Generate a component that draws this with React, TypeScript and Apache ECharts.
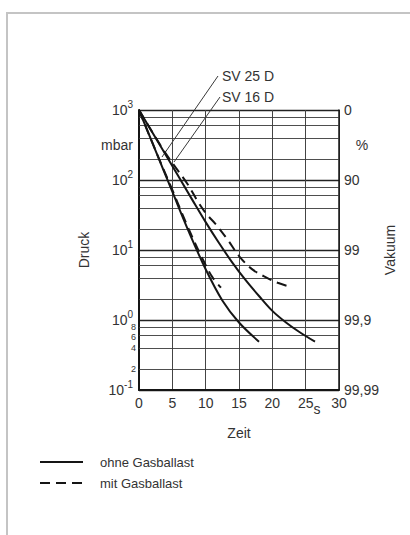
import React, { useEffect, useRef } from "react";
import * as echarts from "echarts";

// Pump-down curves (time in s, pressure in mbar)
const timeSv25Ohne = [0, 2.5, 5, 7.5, 10, 12.5, 15, 18];
const pressSv25Ohne = [1000, 260, 68, 18, 5.3, 1.9, 0.92, 0.49];
const timeSv25Mit = [0, 2.5, 5, 7.5, 9.5, 11, 12.3];
const pressSv25Mit = [1000, 262, 72, 19.5, 7.6, 4.1, 2.9];
const timeSv16Ohne = [0, 4, 8, 10, 12, 14, 16, 18, 20, 22, 24, 26.4];
const pressSv16Ohne = [1000, 229, 52, 25, 12.6, 6.6, 3.7, 2.2, 1.35, 0.93, 0.68, 0.49];
const timeSv16Mit = [0, 4, 7.2, 8.9, 10.2, 11.4, 13.3, 15.1, 17.1, 19.2, 20.8, 22.6];
const pressSv16Mit = [1000, 240, 90, 48, 32, 24, 14, 8, 5.2, 4.0, 3.4, 3.0];

// Axis / grid values
const minorGridValues = [0.2, 0.4, 0.6, 0.8, 2, 4, 6, 8, 20, 40, 60, 80, 200, 400, 600, 800];
const minorLabelValues = [0.2, 0.4, 0.6, 0.8];
const minorLabelTexts = ["2", "4", "6", "8"];
const vacuumTickValues = [1000, 100, 10, 1, 0.1];
const vacuumTickLabels = ["0", "90", "99", "99,9", "99,99"];

const legendNames = ["ohne Gasballast", "mit Gasballast"];

const FONT = '"Liberation Sans", Arial, Helvetica, sans-serif';
const TXT = "#333";
const INK = "#151515";
const DASH = [10, 6];

function zip(t: number[], p: number[]) {
  return t.map((v, i) => [v, p[i]]);
}

export default function App() {
  const ref = useRef<HTMLDivElement>(null);
  useEffect(() => {
    document.body.style.margin = "0";
    const chart = echarts.init(ref.current!, null, { renderer: "svg" });

    const markLineData = minorGridValues.map((v) => {
      const idx = minorLabelValues.indexOf(v);
      return {
        yAxis: v,
        label:
          idx >= 0
            ? {
                show: true,
                position: "start",
                formatter: minorLabelTexts[idx],
                fontSize: 9,
                lineHeight: 8,
                color: TXT,
                distance: 3,
                fontFamily: FONT,
                offset: [0, idx === 3 ? 0.5 : idx === 2 ? 1.5 : 0],
              }
            : { show: false },
      };
    });

    const solidStyle = { color: INK, width: 2, type: "solid" };
    const dashStyle = { color: INK, width: 2, type: DASH };

    const option: any = {
      animation: false,
      textStyle: { fontFamily: FONT },
      grid: { left: 139, right: 71, top: 110, bottom: 145 },
      xAxis: {
        type: "value",
        min: 0,
        max: 30,
        interval: 5,
        axisLine: { show: true, lineStyle: { color: INK, width: 2 } },
        axisTick: { show: false },
        axisLabel: { fontSize: 14, color: TXT, margin: 6 },
        splitLine: { show: true, lineStyle: { color: "#444", width: 1 } },
        name: "Zeit",
        nameLocation: "middle",
        nameGap: 36,
        nameTextStyle: { fontSize: 14, color: TXT },
      },
      yAxis: [
        {
          type: "log",
          logBase: 10,
          min: 0.1,
          max: 1000,
          position: "left",
          axisLine: { show: true, onZero: false, lineStyle: { color: INK, width: 2 } },
          axisTick: { show: false },
          splitLine: { show: true, lineStyle: { color: "#222", width: 1.3 } },
          axisLabel: {
            margin: 6,
            color: TXT,
            formatter: (v: number) => `{b|10}{s|${Math.round(Math.log10(v))}}`,
            rich: {
              b: { fontSize: 14, color: TXT },
              s: { fontSize: 10, color: TXT, padding: [0, 0, 11, 0] },
            },
          },
          name: "Druck",
          nameLocation: "middle",
          nameGap: 48,
          nameRotate: 90,
          nameTextStyle: { fontSize: 14, color: TXT },
        },
        {
          type: "log",
          logBase: 10,
          min: 0.1,
          max: 1000,
          position: "right",
          axisLine: { show: true, onZero: false, lineStyle: { color: INK, width: 1.5 } },
          axisTick: { show: false },
          splitLine: { show: false },
          axisLabel: {
            margin: 5,
            fontSize: 14,
            color: TXT,
            formatter: (v: number) => {
              const i = vacuumTickValues.findIndex((t) => Math.abs(Math.log10(t) - Math.log10(v)) < 1e-6);
              return i >= 0 ? vacuumTickLabels[i] : "";
            },
          },
          name: "Vakuum",
          nameLocation: "middle",
          nameGap: 44,
          nameRotate: 90,
          nameTextStyle: { fontSize: 14, color: TXT },
        },
      ],
      series: [
        {
          name: legendNames[0],
          type: "line",
          data: zip(timeSv25Ohne, pressSv25Ohne),
          symbol: "none",
          smooth: 0.35,
          lineStyle: solidStyle,
          itemStyle: { color: INK },
          z: 5,
          markLine: {
            silent: true,
            symbol: ["none", "none"],
            lineStyle: { color: "#3a3a3a", width: 0.9, type: "solid" },
            data: markLineData,
            z: 1,
          },
        },
        {
          name: legendNames[1],
          type: "line",
          data: zip(timeSv25Mit, pressSv25Mit),
          symbol: "none",
          smooth: 0.35,
          lineStyle: dashStyle,
          itemStyle: { color: INK },
          z: 5,
        },
        {
          name: legendNames[0],
          type: "line",
          data: zip(timeSv16Ohne, pressSv16Ohne),
          symbol: "none",
          smooth: 0.35,
          lineStyle: solidStyle,
          itemStyle: { color: INK },
          z: 5,
        },
        {
          name: legendNames[1],
          type: "line",
          data: zip(timeSv16Mit, pressSv16Mit),
          symbol: "none",
          smooth: 0.35,
          lineStyle: dashStyle,
          itemStyle: { color: INK },
          z: 5,
        },
      ],
      graphic: [
        {
          type: "rect",
          shape: { x: 7, y: 13, width: 440, height: 560 },
          style: { fill: "none", stroke: "#c4c4c4", lineWidth: 2 },
          silent: true,
        },
        {
          type: "line",
          shape: { x1: 218, y1: 76, x2: 162, y2: 157 },
          style: { stroke: "#222", lineWidth: 0.9 },
        },
        {
          type: "line",
          shape: { x1: 220, y1: 97, x2: 174, y2: 162 },
          style: { stroke: "#222", lineWidth: 0.9 },
        },
        {
          type: "text",
          x: 222,
          y: 76,
          style: { text: "SV 25 D", fill: TXT, font: `14px ${FONT}`, align: "left", verticalAlign: "middle" },
        },
        {
          type: "text",
          x: 222,
          y: 97,
          style: { text: "SV 16 D", fill: TXT, font: `14px ${FONT}`, align: "left", verticalAlign: "middle" },
        },
        {
          type: "text",
          x: 133,
          y: 145,
          style: { text: "mbar", fill: TXT, font: `14px ${FONT}`, align: "right", verticalAlign: "middle" },
        },
        {
          type: "text",
          x: 362,
          y: 145,
          style: { text: "%", fill: TXT, font: `14px ${FONT}`, align: "center", verticalAlign: "middle" },
        },
        {
          type: "text",
          x: 317,
          y: 409,
          style: { text: "s", fill: TXT, font: `14px ${FONT}`, align: "center", verticalAlign: "middle" },
        },
        // legend
        {
          type: "line",
          shape: { x1: 40, y1: 462, x2: 83, y2: 462 },
          style: { stroke: INK, lineWidth: 2 },
        },
        {
          type: "line",
          shape: { x1: 40, y1: 483, x2: 83, y2: 483 },
          style: { stroke: INK, lineWidth: 2, lineDash: [10, 6] },
        },
        {
          type: "text",
          x: 100,
          y: 462,
          style: { text: legendNames[0], fill: TXT, font: `13px ${FONT}`, align: "left", verticalAlign: "middle" },
        },
        {
          type: "text",
          x: 100,
          y: 483,
          style: { text: legendNames[1], fill: TXT, font: `13px ${FONT}`, align: "left", verticalAlign: "middle" },
        },
      ],
    };
    chart.setOption(option);
    return () => chart.dispose();
  }, []);
  return <div ref={ref} style={{ width: 410, height: 535 }} />;
}
